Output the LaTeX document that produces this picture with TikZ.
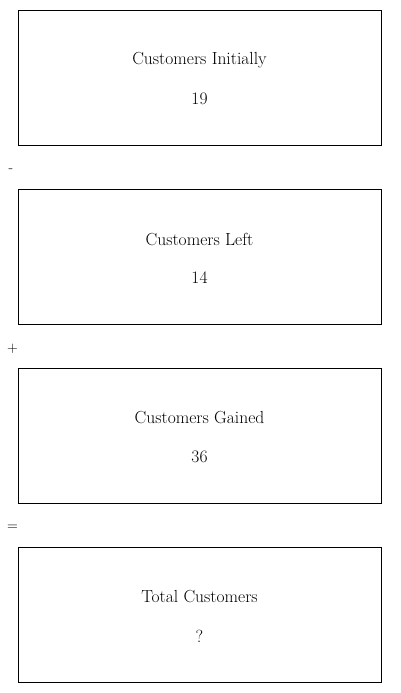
\documentclass[tikz,border=0pt]{standalone}
\begin{document}
\begin{tikzpicture}[x=1pt,y=-1pt,
  box/.style={draw=black,line width=0.8pt,minimum width=363pt,minimum height=135pt,inner sep=0pt},
  lbl/.style={font=\fontsize{17.5}{20}\selectfont,inner sep=0pt},
  op/.style={font=\fontsize{15}{18}\selectfont,inner sep=0pt}]
\useasboundingbox (0,0) rectangle (400,693);
\node[box] (b1) at (199.5,77.5) {};
\node[box] (b2) at (199.5,256.5) {};
\node[box] (b3) at (199.5,435.5) {};
\node[box] (b4) at (199.5,614.5) {};
\node[lbl] (t1) at (199.5,60) {Customers Initially};
\node[lbl] (n1) at (199.5,99) {19};
\node[lbl] (t2) at (199.5,239) {Customers Left};
\node[lbl] (n2) at (199.5,278) {14};
\node[lbl] (t3) at (199.5,418) {Customers Gained};
\node[lbl] (n3) at (199.5,457) {36};
\node[lbl] (t4) at (199.5,597) {Total Customers};
\node[lbl] (n4) at (199.5,636) {?};
\node[op] (o1) at (11,171) {-};
\node[op] (o2) at (12.5,349) {+};
\node[op] (o3) at (12.5,528) {=};
\end{tikzpicture}
\end{document}
